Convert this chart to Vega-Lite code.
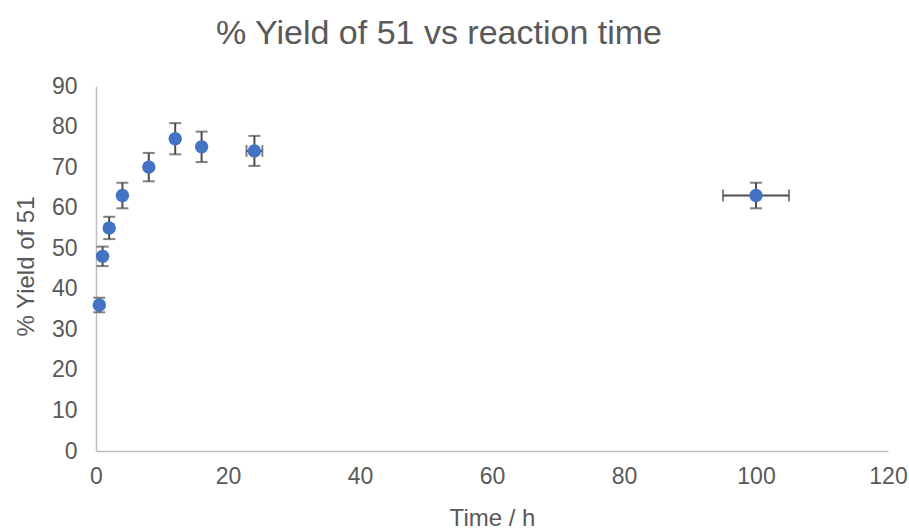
{
  "$schema": "https://vega.github.io/schema/vega-lite/v6.json",
  "autosize": {"type": "none"},
  "width": 792,
  "height": 365,
  "padding": {"left": 96, "top": 86, "right": 21, "bottom": 78},
  "background": "white",
  "config": {
    "font": "Liberation Sans",
    "view": {"stroke": null}
  },
  "title": {
    "text": "% Yield of 51 vs reaction time",
    "fontSize": 34,
    "fontWeight": "normal",
    "color": "#595959",
    "anchor": "middle",
    "frame": "group",
    "dx": -53,
    "offset": 24
  },
  "data": {
    "values": [
      {"time": 0.5, "yield": 36, "ylow": 34.2, "yhigh": 37.8, "xlow": null, "xhigh": null},
      {"time": 1, "yield": 48, "ylow": 45.6, "yhigh": 50.4, "xlow": null, "xhigh": null},
      {"time": 2, "yield": 55, "ylow": 52.25, "yhigh": 57.75, "xlow": null, "xhigh": null},
      {"time": 4, "yield": 63, "ylow": 59.85, "yhigh": 66.15, "xlow": null, "xhigh": null},
      {"time": 8, "yield": 70, "ylow": 66.5, "yhigh": 73.5, "xlow": null, "xhigh": null},
      {"time": 12, "yield": 77, "ylow": 73.15, "yhigh": 80.85, "xlow": null, "xhigh": null},
      {"time": 16, "yield": 75, "ylow": 71.25, "yhigh": 78.75, "xlow": null, "xhigh": null},
      {"time": 24, "yield": 74, "ylow": 70.3, "yhigh": 77.7, "xlow": 22.8, "xhigh": 25.2},
      {"time": 100, "yield": 63, "ylow": 59.85, "yhigh": 66.15, "xlow": 95, "xhigh": 105}
    ]
  },
  "encoding": {
    "x": {
      "field": "time",
      "type": "quantitative",
      "scale": {"domain": [0, 120], "nice": false},
      "axis": {
        "values": [0, 20, 40, 60, 80, 100, 120],
        "title": "Time / h",
        "grid": false,
        "ticks": false,
        "tickSize": 0,
        "labelFlush": false,
        "domainColor": "#BFBFBF",
        "domainWidth": 1.5,
        "labelFontSize": 23,
        "labelColor": "#595959",
        "labelPadding": 14,
        "titleFontSize": 24,
        "titleFontWeight": "normal",
        "titleColor": "#595959",
        "titleBaseline": "middle",
        "titleY": 67
      }
    },
    "y": {
      "field": "yield",
      "type": "quantitative",
      "scale": {"domain": [0, 90], "nice": false},
      "axis": {
        "values": [0, 10, 20, 30, 40, 50, 60, 70, 80, 90],
        "title": "% Yield of 51",
        "grid": false,
        "ticks": false,
        "tickSize": 0,
        "labelFlush": false,
        "domainColor": "#BFBFBF",
        "domainWidth": 1.5,
        "labelFontSize": 23,
        "labelColor": "#595959",
        "labelPadding": 19,
        "titleFontSize": 24,
        "titleFontWeight": "normal",
        "titleColor": "#595959",
        "titleAngle": 270,
        "titleBaseline": "middle",
        "titleAlign": "center",
        "titleX": -70,
        "titleY": 180
      }
    }
  },
  "layer": [
    {
      "mark": {"type": "rule", "color": "#4D4D4D", "strokeWidth": 2},
      "encoding": {
        "y": {"field": "ylow", "type": "quantitative"},
        "y2": {"field": "yhigh"}
      }
    },
    {
      "mark": {"type": "tick", "orient": "horizontal", "color": "#4D4D4D", "size": 12, "thickness": 2},
      "encoding": {"y": {"field": "ylow", "type": "quantitative"}}
    },
    {
      "mark": {"type": "tick", "orient": "horizontal", "color": "#4D4D4D", "size": 12, "thickness": 2},
      "encoding": {"y": {"field": "yhigh", "type": "quantitative"}}
    },
    {
      "transform": [{"filter": "isValid(datum.xlow)"}],
      "mark": {"type": "rule", "color": "#4D4D4D", "strokeWidth": 2},
      "encoding": {
        "x": {"field": "xlow", "type": "quantitative"},
        "x2": {"field": "xhigh"}
      }
    },
    {
      "transform": [{"filter": "isValid(datum.xlow)"}],
      "mark": {"type": "tick", "orient": "vertical", "color": "#4D4D4D", "size": 12, "thickness": 2},
      "encoding": {"x": {"field": "xlow", "type": "quantitative"}}
    },
    {
      "transform": [{"filter": "isValid(datum.xlow)"}],
      "mark": {"type": "tick", "orient": "vertical", "color": "#4D4D4D", "size": 12, "thickness": 2},
      "encoding": {"x": {"field": "xhigh", "type": "quantitative"}}
    },
    {
      "mark": {"type": "point", "shape": "circle", "filled": true, "color": "#4472C4", "opacity": 1, "size": 180}
    }
  ]
}
